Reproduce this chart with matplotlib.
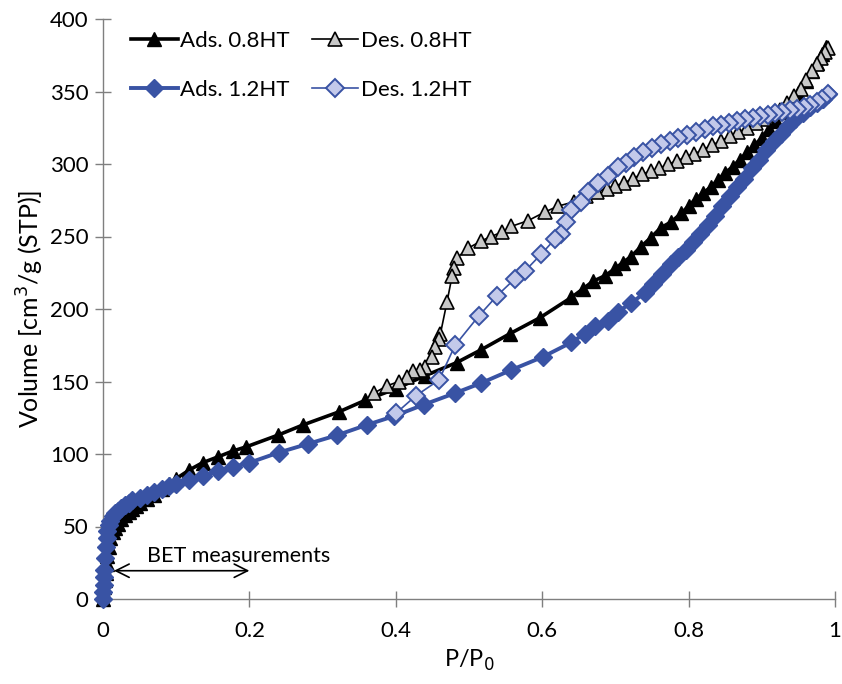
import matplotlib
matplotlib.use("Agg")
import matplotlib.pyplot as plt

plt.rcParams['font.family'] = ['Lato', 'DejaVu Sans']

# adsorption 0.8HT
p_ads08 = [0, 0.001, 0.002, 0.003, 0.004, 0.005, 0.006, 0.008, 0.01, 0.013, 0.016, 0.02,
           0.025, 0.03, 0.035, 0.04, 0.045, 0.05, 0.06, 0.07, 0.08, 0.09, 0.1, 0.118, 0.136,
           0.157, 0.177, 0.196, 0.239, 0.273, 0.322, 0.358, 0.40, 0.44, 0.483, 0.517, 0.556,
           0.597, 0.64, 0.656, 0.669, 0.686, 0.70, 0.71, 0.721, 0.735, 0.748, 0.762, 0.776,
           0.79, 0.80, 0.81, 0.82, 0.83, 0.84, 0.85, 0.86, 0.87, 0.88, 0.89, 0.90, 0.91,
           0.92, 0.93, 0.94, 0.95, 0.96, 0.968, 0.975, 0.982, 0.988]
v_ads08 = [0, 4, 8, 13, 18, 24, 30, 36, 42, 46, 49, 52, 55, 58, 60, 62, 64, 66, 69, 72, 76,
           79, 83, 89, 94, 98, 102, 105, 113, 120, 129, 137, 145, 154, 163, 172, 183, 194,
           208, 214, 219, 223, 228, 232, 236, 243, 249, 256, 260, 266, 271, 276, 280, 284,
           289, 294, 298, 303, 308, 313, 318, 324, 330, 336, 342, 349, 357, 364, 370, 376,
           381]

# desorption 0.8HT
p_des08 = [0.99, 0.986, 0.981, 0.975, 0.968, 0.961, 0.953, 0.944, 0.935, 0.925, 0.914,
           0.903, 0.892, 0.88, 0.868, 0.856, 0.844, 0.832, 0.82, 0.808, 0.796, 0.784, 0.772,
           0.76, 0.748, 0.736, 0.724, 0.712, 0.70, 0.688, 0.675, 0.66, 0.644, 0.622, 0.604,
           0.581, 0.558, 0.545, 0.53, 0.517, 0.499, 0.483, 0.479, 0.477, 0.47, 0.461, 0.459,
           0.454, 0.449, 0.44, 0.433, 0.424, 0.415, 0.404, 0.388, 0.37]
v_des08 = [380, 377, 373, 369, 364, 358, 352, 347, 342, 337, 334, 331, 328, 325, 322, 319,
           316, 313, 310, 307, 305, 302, 300, 297, 295, 293, 290, 287, 285, 283, 281, 278,
           274, 271, 267, 261, 257, 253, 250, 247, 242, 235, 228, 223, 205, 183, 179, 174,
           167, 160, 158, 157, 153, 150, 147, 142]

# adsorption 1.2HT
p_ads12 = [0, 0.0005, 0.001, 0.0015, 0.002, 0.003, 0.004, 0.005, 0.006, 0.008, 0.01, 0.013,
           0.016, 0.02, 0.025, 0.03, 0.035, 0.04, 0.05, 0.06, 0.07, 0.08, 0.09, 0.1, 0.118,
           0.136, 0.157, 0.177, 0.2, 0.24, 0.28, 0.32, 0.36, 0.397, 0.438, 0.481, 0.517, 0.558,
           0.601, 0.64, 0.658, 0.672, 0.69, 0.703, 0.721, 0.74, 0.752, 0.764, 0.776, 0.786,
           0.796, 0.806, 0.816, 0.826, 0.836, 0.846, 0.856, 0.866, 0.876, 0.886, 0.896,
           0.906, 0.916, 0.926, 0.936, 0.946, 0.956, 0.966, 0.976, 0.984, 0.99]
v_ads12 = [0, 5, 10, 15, 20, 28, 36, 42, 47, 51, 54, 57, 59, 61, 63, 65, 66, 68, 70, 72, 74,
           76, 78, 79, 82, 85, 88, 91, 94, 101, 107, 113, 120, 126, 134, 142, 149, 158, 167,
           177, 183, 188, 192, 198, 204, 211, 217, 224, 231, 236, 241, 246, 252, 258, 264,
           271, 278, 284, 290, 297, 303, 310, 316, 321, 326, 331, 335, 339, 342, 345, 348]

# desorption 1.2HT
p_des12 = [0.99, 0.982, 0.975, 0.966, 0.957, 0.948, 0.938, 0.928, 0.918, 0.908, 0.898,
           0.888, 0.877, 0.866, 0.855, 0.844, 0.833, 0.822, 0.81, 0.798, 0.786, 0.774, 0.762,
           0.75, 0.738, 0.726, 0.714, 0.703, 0.69, 0.676, 0.663, 0.653, 0.64, 0.633, 0.626,
           0.617, 0.599, 0.576, 0.563, 0.538, 0.513, 0.481, 0.459, 0.427, 0.40]
v_des12 = [348, 345, 343, 341, 339, 338, 337, 336, 335, 334, 333, 332, 331, 330, 328, 327,
           326, 324, 322, 320, 318, 316, 314, 311, 308, 305, 301, 298, 292, 287, 281, 274,
           268, 260, 252, 248, 238, 226, 221, 209, 195, 175, 151, 140, 128]

blue = '#3953A4'

fig = plt.figure(figsize=(8.42, 6.84), dpi=100)
ax = fig.add_axes([103 / 842, 1 - 599 / 684, 732 / 842, 580 / 684])

ax.plot(p_ads08, v_ads08, color='black', lw=2.6, marker='^', ms=10.5,
        mfc='black', mec='black', clip_on=False, label='Ads. 0.8HT', zorder=3)
ax.plot(p_des08, v_des08, color='black', lw=1.2, marker='^', ms=10.5,
        mfc='#c8c8c8', mec='black', mew=1.2, clip_on=False, label='Des. 0.8HT', zorder=3)
ax.plot(p_ads12, v_ads12, color=blue, lw=2.8, marker='D', ms=9.5,
        mfc=blue, mec=blue, clip_on=False, label='Ads. 1.2HT', zorder=3)
ax.plot(p_des12, v_des12, color=blue, lw=1.2, marker='D', ms=9,
        mfc='#c3c9ea', mec=blue, mew=1.4, clip_on=False, label='Des. 1.2HT', zorder=3)

ax.set_xlim(0, 1)
ax.set_ylim(0, 400)
ax.set_xticks([0, 0.2, 0.4, 0.6, 0.8, 1])
ax.set_xticklabels(['0', '0.2', '0.4', '0.6', '0.8', '1'])
ax.set_yticks(range(0, 401, 50))

for s in ['top', 'right']:
    ax.spines[s].set_visible(False)
for s in ['left', 'bottom']:
    ax.spines[s].set_color('#7f7f7f')
    ax.spines[s].set_linewidth(1)
ax.tick_params(direction='inout', length=11, width=1, color='#7f7f7f',
               labelsize=16, labelcolor='black')
ax.tick_params(axis='x', pad=10)
ax.tick_params(axis='y', pad=5)

ax.set_xlabel('P/P$_0$', fontsize=17, labelpad=5)
ax.set_ylabel('Volume [cm$^3$/g (STP)]', fontsize=18, labelpad=3)

ax.annotate('', xy=(0.015, 19.5), xytext=(0.2, 19.5),
            arrowprops=dict(arrowstyle='<->', color='black', lw=1.2,
                            mutation_scale=24, shrinkA=0, shrinkB=0))
ax.text(0.06, 30, 'BET measurements', fontsize=15.5, ha='left', va='center')

h, l = ax.get_legend_handles_labels()
order = [0, 2, 1, 3]
ax.legend([h[i] for i in order], [l[i] for i in order], ncol=2, frameon=False,
          loc='upper left', bbox_to_anchor=(131 / 842, 1 - 31 / 684),
          bbox_transform=fig.transFigure, borderaxespad=0, borderpad=0,
          fontsize=16, handlelength=2.1, handletextpad=0.1, labelspacing=1.3,
          columnspacing=1.0, numpoints=1)

fig.savefig('out.png', dpi=100)
